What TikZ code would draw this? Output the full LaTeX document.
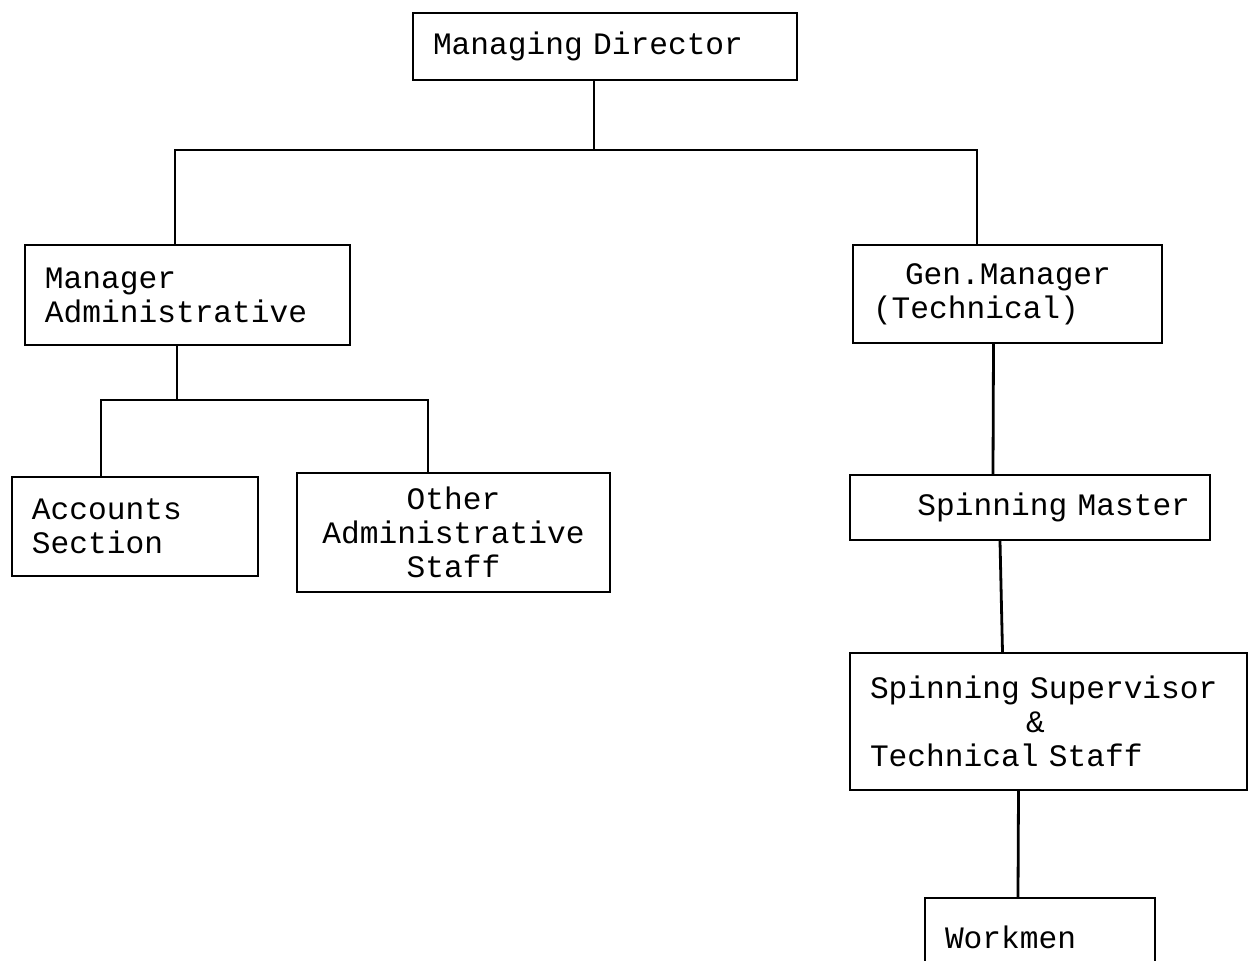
\documentclass[tikz,border=0pt]{standalone}
\usepackage{fontspec}
\setmonofont{Liberation Mono}
\usepackage{tikz}
\usetikzlibrary{calc}

\tikzset{
  post/.style={draw, line width=1pt, rectangle, inner xsep=10pt, inner ysep=2pt,
    align=left, font=\ttfamily\fontsize{15.6pt}{17pt}\selectfont},
  link/.style={line width=1.4pt}
}

\begin{document}
\begin{tikzpicture}[x=0.5pt, y=-0.5pt]
        \useasboundingbox (0,0) rectangle (1249,961);

        \node[post, text width=172pt, minimum height=33.5pt] (md) at (605,46.5) {Managing Director};

        \node[post, text width=142.5pt, minimum height=50pt] (mgr) at (187.5,295) {Manager\\Administrative};
        \node[post, text width=134.5pt, minimum height=49pt] (gm) at (1007.5,294) {\hspace*{16pt}Gen.Manager\\(Technical)};

        \node[post, text width=103pt, minimum height=49.5pt] (acc) at (135,526.5) {Accounts\\Section};
        \node[post, text width=136.5pt, minimum height=59.5pt, align=center] (oth) at (453.5,532.5) {Other\\Administrative\\Staff};

        \node[post, text width=160pt, minimum height=32.5pt, align=right] (sm) at (1030,507.5) {Spinning Master};
        \node[post, text width=178.5pt, minimum height=68.5pt] (sup) at (1048.5,721.5)
            {Spinning Supervisor\\\hspace*{78pt}\&\\Technical Staff};
        \node[post, text width=95pt, minimum height=39pt] (wk) at (1040,937) {Workmen};

        % top level
        \coordinate (j0) at (594,150);
        \coordinate (j1) at (175,150);
        \coordinate (j2) at (977,150);
        \draw[link] (j0 |- md.south) -- (j0);
        \draw[link] (j1 |- mgr.north) -- (j1) -- (j2) -- (j2 |- gm.north);

        % administrative side
        \coordinate (j3) at (177,400);
        \coordinate (j4) at (101,400);
        \coordinate (j5) at (428,400);
        \draw[link] (j3 |- mgr.south) -- (j3);
        \draw[link] (j4 |- acc.north) -- (j4) -- (j5) -- (j5 |- oth.north);

        % technical side
        \draw[link] ([xshift=-7pt]gm.south) -- ([xshift=-18.5pt]sm.north);
        \draw[link] ([xshift=-15pt]sm.south) -- ([xshift=-23pt]sup.north);
        \draw[link] ([xshift=-15pt]sup.south) -- ([xshift=-11pt]wk.north);
    \end{tikzpicture}
\end{document}
